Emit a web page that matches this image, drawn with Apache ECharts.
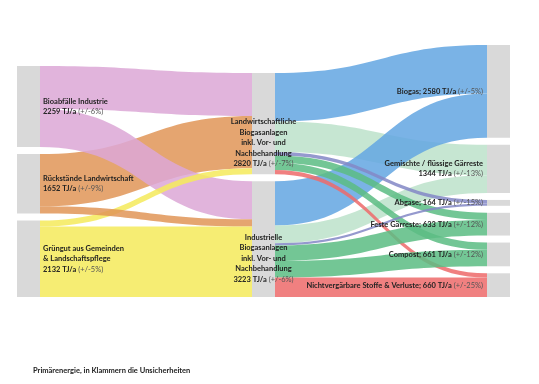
<!DOCTYPE html>
<html>
<head>
<meta charset="utf-8">
<script src="https://cdn.jsdelivr.net/npm/echarts@6/dist/echarts.min.js"></script>
<style>html,body{margin:0;padding:0;background:#fff}#c{width:539px;height:384px}</style>
</head>
<body>
<div id="c"></div>
<script>
// ---- data ----
const nodeNames = [
  'Bioabfälle Industrie', 'Rückstände Landwirtschaft', 'Grüngut',
  'Landwirtschaftliche Biogasanlagen', 'Industrielle Biogasanlagen',
  'Biogas', 'Gemischte / flüssige Gärreste', 'Abgase', 'Feste Gärreste', 'Compost', 'Nichtvergärbare Stoffe & Verluste'
];
const nodeLabelLines = [
  ['Bioabfälle Industrie'],
  ['Rückstände Landwirtschaft'],
  ['Grüngut aus Gemeinden', '& Landschaftspflege'],
  ['Landwirtschaftliche', 'Biogasanlagen', 'inkl. Vor- und', 'Nachbehandlung'],
  ['Industrielle', 'Biogasanlagen', 'inkl. Vor- und', 'Nachbehandlung'],
  ['Biogas;'],
  ['Gemischte / flüssige Gärreste'],
  ['Abgase;'],
  ['Feste Gärreste;'],
  ['Compost;'],
  ['Nichtvergärbare Stoffe & Verluste;']
];
const nodeTotals = [2259, 1652, 2132, 2820, 3223, 2580, 1344, 164, 633, 661, 660];
const nodeUncertainty = ['+/-6%', '+/-9%', '+/-5%', '+/-7%', '+/-6%', '+/-5%', '+/-13%', '+/-15%', '+/-12%', '+/-12%', '+/-25%'];

// links, listed in drawing order (later ones are drawn on top)
const linkSources = [
  'Bioabfälle Industrie', 'Rückstände Landwirtschaft', 'Bioabfälle Industrie',
  'Grüngut', 'Rückstände Landwirtschaft', 'Grüngut',
  'Landwirtschaftliche Biogasanlagen', 'Landwirtschaftliche Biogasanlagen',
  'Industrielle Biogasanlagen', 'Industrielle Biogasanlagen',
  'Landwirtschaftliche Biogasanlagen', 'Landwirtschaftliche Biogasanlagen',
  'Landwirtschaftliche Biogasanlagen', 'Landwirtschaftliche Biogasanlagen',
  'Industrielle Biogasanlagen', 'Industrielle Biogasanlagen',
  'Industrielle Biogasanlagen', 'Industrielle Biogasanlagen'
];
const linkTargets = [
  'Landwirtschaftliche Biogasanlagen', 'Landwirtschaftliche Biogasanlagen', 'Industrielle Biogasanlagen',
  'Landwirtschaftliche Biogasanlagen', 'Industrielle Biogasanlagen', 'Industrielle Biogasanlagen',
  'Biogas', 'Gemischte / flüssige Gärreste',
  'Biogas', 'Gemischte / flüssige Gärreste',
  'Abgase', 'Feste Gärreste',
  'Compost', 'Nichtvergärbare Stoffe & Verluste',
  'Abgase', 'Feste Gärreste',
  'Compost', 'Nichtvergärbare Stoffe & Verluste'
];
const linkValues = [
  1198, 1452, 1061,
  170, 200, 1962,
  1350, 850,
  1230, 494,
  100, 200,
  200, 120,
  64, 433,
  461, 540
];
const footnote = 'Primärenergie, in Klammern die Unsicherheiten';

// ---- styles ----
const flowColors = {
  'Bioabfälle Industrie': '#dca8d6',
  'Rückstände Landwirtschaft': '#e19658',
  'Grüngut': '#f4ea5c',
  'Biogas': '#64a6e2',
  'Gemischte / flüssige Gärreste': '#bde2cb',
  'Abgase': '#8488c6',
  'Feste Gärreste': '#5cbd84',
  'Compost': '#5cbd84',
  'Nichtvergärbare Stoffe & Verluste': '#ee6b6b'
};
const leftCol = [0, 1, 2], midCol = [3, 4];

const nodes = nodeNames.map(function (name, i) {
  const lines = nodeLabelLines[i];
  let text;
  if (i >= 5 && i !== 6) {
    text = '{b|' + lines[0] + ' ' + nodeTotals[i] + ' TJ/a} {u|(' + nodeUncertainty[i] + ')}';
  } else {
    text = lines.map(function (l) { return '{b|' + l + '}'; }).join('\n') +
      '\n{b|' + nodeTotals[i] + ' TJ/a} {u|(' + nodeUncertainty[i] + ')}';
  }
  const label = { formatter: text };
  if (leftCol.indexOf(i) >= 0) {
    label.position = 'right'; label.distance = 3; label.align = 'left';
  } else if (midCol.indexOf(i) >= 0) {
    label.position = 'inside'; label.align = 'center'; label.offset = [0, 19];
  } else {
    label.position = 'left'; label.distance = 4; label.align = 'right';
  }
  return { name: name, label: label };
});

const links = linkSources.map(function (s, i) {
  const t = linkTargets[i];
  const col = flowColors[s] || flowColors[t];
  return { source: s, target: t, value: linkValues[i], lineStyle: { color: col } };
});

const chart = echarts.init(document.getElementById('c'), null, { renderer: 'canvas' });
chart.setOption({
  backgroundColor: '#ffffff',
  animation: false,
  title: {
    text: footnote, left: 33, top: 367, padding: 0,
    textStyle: { fontSize: 7.5, fontWeight: 'bold', color: '#222', fontFamily: 'Lato' }
  },
  series: [{
    type: 'sankey',
    left: 17, right: 29, top: 45, bottom: 87,
    nodeWidth: 23, nodeGap: 7,
    nodeAlign: 'justify',
    layoutIterations: 32,
    draggable: false,
    emphasis: { disabled: true },
    itemStyle: { color: '#d9d9d9', borderWidth: 0 },
    lineStyle: { opacity: 0.86, curveness: 0.5 },
    label: {
      color: '#222', fontFamily: 'Lato', fontSize: 7.5, lineHeight: 10.5,
      rich: {
        b: { fontWeight: 'bold', color: '#222', fontSize: 7.5, fontFamily: 'Lato', lineHeight: 10.5 },
        u: { color: '#555', fontSize: 7.5, fontFamily: 'Lato', lineHeight: 10.5 }
      }
    },
    data: nodes,
    links: links
  }]
});
</script>
</body>
</html>
